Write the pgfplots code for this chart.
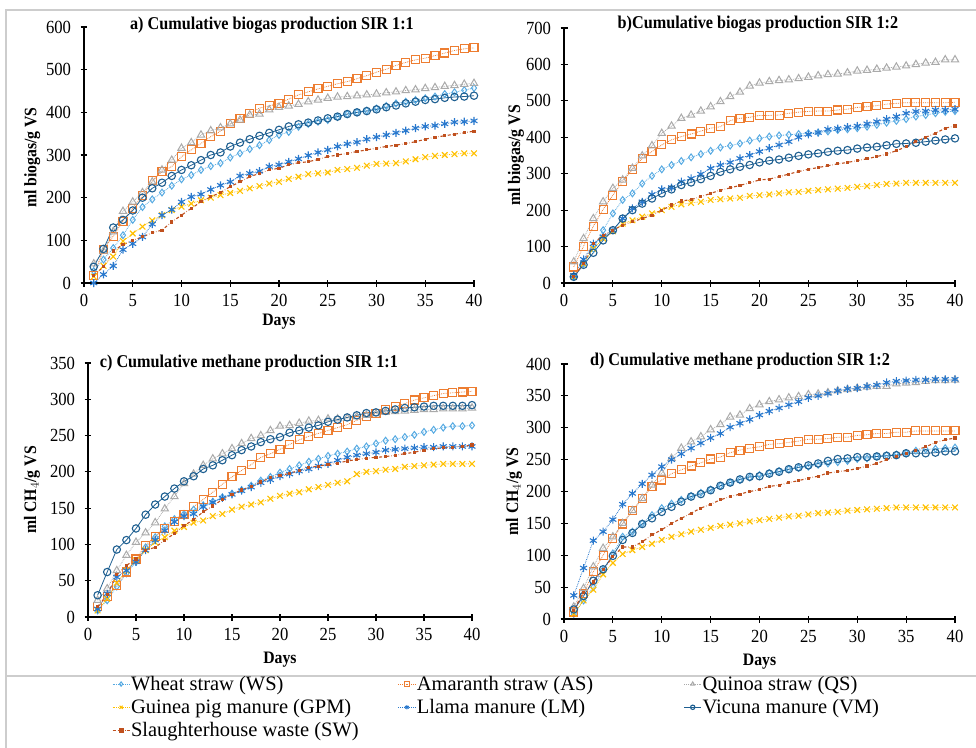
\documentclass[border=0pt]{standalone}
\usepackage{fontspec}
\setmainfont{Liberation Serif}
\newfontfamily\cond{Liberation Serif}[FakeStretch=0.9]
\usepackage{pgfplots}
\usepackage{pgfplotstable}
\pgfplotsset{compat=1.18}

\definecolor{cWS}{RGB}{86,170,226}
\definecolor{cAS}{RGB}{237,125,49}
\definecolor{cQS}{RGB}{170,170,170}
\definecolor{cGPM}{RGB}{255,192,0}
\definecolor{cLM}{RGB}{40,120,205}
\definecolor{cVM}{RGB}{30,95,145}
\definecolor{cSW}{RGB}{192,80,30}
\definecolor{framegray}{RGB}{205,205,205}

% a) biogas SIR 1:1
\pgfplotstableread{
day WS AS QS GPM LM VM SW
1 28 18 45 15 0 38 18
2 55 78 75 40 20 80 38
3 82 110 120 62 40 130 75
4 112 145 168 98 78 148 90
5 148 175 190 116 92 170 100
6 178 205 212 132 108 200 108
7 196 240 237 147 138 222 118
8 212 261 265 159 159 235 124
9 228 273 288 171 172 251 143
10 243 296 316 179 190 265 159
11 253 312 329 186 202 276 175
12 265 327 347 194 208 288 190
13 274 343 357 200 219 300 202
14 281 356 364 206 229 306 212
15 294 373 373 211 237 320 226
16 304 386 382 216 251 329 237
17 314 398 394 222 257 337 249
18 323 410 396 227 262 345 257
19 335 415 406 233 273 352 265
20 347 421 412 237 277 359 269
21 354 431 415 244 284 367 277
22 366 441 419 249 291 372 282
23 373 448 425 255 299 376 284
24 378 455 429 257 306 381 290
25 382 461 433 259 312 386 296
26 389 467 436 265 320 390 300
27 396 472 437 267 326 396 304
28 400 479 439 270 330 400 308
29 404 486 441 275 337 403 312
30 409 494 443 279 342 407 316
31 415 501 446 280 347 412 320
32 421 510 448 281 352 416 323
33 425 517 451 285 357 421 327
34 429 523 453 290 363 425 331
35 433 527 456 295 367 429 337
36 437 533 458 298 369 431 342
37 443 539 461 300 373 434 345
38 447 545 463 302 377 436 349
39 452 549 466 304 378 437 352
40 457 551 468 304 380 439 356
}\tabA

% b) biogas SIR 1:2
\pgfplotstableread{
day WS AS QS GPM LM VM SW
1 17 44 58 17 21 17 18
2 53 101 122 53 65 50 53
3 94 156 177 94 108 83 108
4 145 202 223 122 127 117 131
5 191 241 260 142 145 145 145
6 228 278 283 163 177 177 159
7 246 312 315 172 205 200 168
8 273 342 349 182 223 218 177
9 294 361 377 191 243 232 186
10 312 379 411 200 257 246 200
11 324 393 431 209 262 257 214
12 335 402 452 216 278 269 225
13 345 409 461 220 287 276 229
14 354 417 472 223 299 285 237
15 363 425 484 228 315 294 246
16 372 429 498 230 324 305 255
17 377 446 512 232 331 312 261
18 383 452 524 234 342 319 268
19 391 455 541 239 351 324 275
20 397 460 549 241 361 331 283
21 402 460 553 243 370 336 285
22 405 461 556 246 379 339 292
23 407 466 558 249 388 344 299
24 409 469 561 250 400 349 306
25 411 471 565 253 408 353 312
26 413 472 569 255 413 356 317
27 416 472 572 257 422 360 322
28 420 475 574 259 424 363 327
29 422 477 577 261 428 365 331
30 425 482 582 264 431 369 336
31 429 484 584 266 437 372 341
32 434 487 587 269 443 374 347
33 440 491 590 272 450 378 354
34 445 493 593 273 457 382 363
35 450 495 596 275 466 383 374
36 457 495 600 275 471 385 388
37 461 495 604 275 472 388 400
38 466 495 606 275 475 391 411
39 470 495 613 275 475 394 425
40 472 496 613 275 477 397 431
}\tabB

% c) methane SIR 1:1
\pgfplotstableread{
day WS AS QS GPM LM VM SW
1 9 14 23 9 11 30 14
2 23 28 39 25 32 62 31
3 42 44 64 47 55 93 58
4 60 62 85 64 64 106 71
5 76 80 103 78 76 122 80
6 96 99 116 92 92 141 92
7 110 111 130 103 106 155 96
8 125 122 149 110 119 166 106
9 135 131 166 119 131 177 115
10 142 141 184 124 139 187 126
11 148 152 197 130 142 194 134
12 154 162 209 133 152 204 145
13 159 172 218 139 158 209 153
14 165 183 225 142 164 216 162
15 170 193 232 148 169 223 169
16 175 202 239 152 174 230 175
17 181 210 246 155 179 235 180
18 188 220 250 158 185 241 186
19 193 225 257 163 189 245 192
20 199 231 263 167 194 248 195
21 204 238 264 170 197 254 198
22 209 244 267 172 201 257 202
23 214 249 270 176 204 261 206
24 218 253 271 179 208 264 208
25 222 257 273 182 211 269 210
26 225 261 273 185 216 272 212
27 228 265 274 187 220 275 215
28 232 271 276 197 223 278 217
29 235 276 278 200 225 281 219
30 239 281 280 201 227 282 220
31 243 286 282 203 230 284 221
32 245 290 283 204 231 286 223
33 248 294 284 207 232 288 225
34 251 299 285 208 233 289 227
35 255 302 286 209 234 290 230
36 258 305 286 210 234 291 232
37 261 308 287 211 235 291 233
38 263 309 287 211 235 291 234
39 263 310 287 211 235 291 235
40 264 311 288 211 235 292 237
}\tabC

% d) methane SIR 1:2
\pgfplotstableread{
day WS AS QS GPM LM VM SW
1 8 11 19 8 37 15 14
2 29 40 48 29 80 36 42
3 50 74 82 46 123 60 58
4 77 100 111 70 137 78 77
5 103 126 129 88 156 99 98
6 129 149 150 102 180 124 113
7 137 170 170 108 197 135 113
8 150 189 189 113 212 149 121
9 163 208 210 118 226 158 132
10 174 218 229 124 239 168 140
11 181 228 252 129 250 176 150
12 187 234 268 133 259 184 158
13 193 240 278 137 268 192 166
14 198 245 286 140 276 196 174
15 203 251 297 143 284 202 180
16 209 254 305 146 291 209 187
17 214 261 317 148 301 214 192
18 218 265 320 150 307 219 196
19 222 268 330 153 313 223 200
20 226 270 336 155 320 224 203
21 229 274 341 157 326 228 208
22 232 275 344 159 331 231 210
23 235 277 347 161 336 235 214
24 237 279 349 162 341 238 217
25 239 282 352 164 347 241 221
26 242 282 353 166 350 244 224
27 244 283 355 167 354 248 229
28 246 285 358 168 358 251 231
29 248 285 360 170 361 252 233
30 251 288 362 171 362 254 236
31 252 289 364 172 365 254 240
32 255 291 365 173 367 255 244
33 257 291 365 174 371 256 250
34 258 293 369 175 373 257 255
35 260 293 370 175 374 260 260
36 264 295 371 175 375 260 265
37 266 295 373 175 375 260 270
38 267 295 374 175 376 261 277
39 268 295 374 175 376 263 281
40 269 295 375 175 376 263 284
}\tabD

\pgfplotsset{
  sWS/.style={cWS, densely dotted, line width=0.8bp, mark=diamond, mark size=3.4bp, mark options={solid, line width=1bp}},
  sAS/.style={cAS, densely dotted, line width=0.8bp, mark=square, mark size=4bp, mark options={solid, line width=1.1bp}},
  sQS/.style={cQS, densely dotted, line width=0.8bp, mark=triangle, mark size=4.2bp, mark options={solid, line width=1bp}},
  sGPM/.style={cGPM, densely dotted, line width=0.8bp, mark=x, mark size=4bp, mark options={solid, line width=1.1bp}},
  sLM/.style={cLM, densely dotted, line width=0.8bp, mark=asterisk, mark size=4bp, mark options={solid, line width=1.1bp}},
  sVM/.style={cVM, solid, line width=0.8bp, mark=o, mark size=3.7bp, mark options={solid, line width=1.1bp}},
  sSW/.style={cSW, dash dot, line width=1.1bp, mark=square*, mark size=1bp, mark options={solid}},
  panel/.style={
    scale only axis,
    xmin=0, xmax=40, ymin=0,
    xtick={0,5,...,40},
    axis x line=bottom, axis y line=left,
    axis line style={-, line width=1.3bp, black},
    tick style={line width=1.2bp, black},
    tick align=center,
    major tick length=7bp,
    clip=false,
    /pgf/number format/assume math mode=true,
    ticklabel style={font=\cond\fontsize{18.5bp}{21bp}\selectfont},
    yticklabel style={xshift=-6bp},
    xticklabel style={yshift=-4bp},
    label style={font=\cond\bfseries\fontsize{17.5bp}{20bp}\selectfont},
    title style={font=\cond\bfseries\fontsize{18bp}{21bp}\selectfont, anchor=center},
  },
}

\newcommand{\allseries}[1]{%
  \addplot[sWS] table[x=day, y=WS] {#1};
  \addplot[sAS] table[x=day, y=AS] {#1};
  \addplot[sQS] table[x=day, y=QS] {#1};
  \addplot[sGPM] table[x=day, y=GPM] {#1};
  \addplot[sLM] table[x=day, y=LM] {#1};
  \addplot[sVM] table[x=day, y=VM] {#1};
  \addplot[sSW] table[x=day, y=SW] {#1};
}

\begin{document}
\begin{tikzpicture}
\path[use as bounding box] (0,0) rectangle (976bp,-748bp);
\draw[framegray, line width=1.3bp] (6bp,-748bp) -- (6bp,-10bp) -- (976bp,-10bp);
\draw[framegray, line width=1.3bp] (6bp,-676bp) -- (976bp,-676bp);

% a
\begin{axis}[panel, at={(84bp,-283bp)}, anchor=south west,
  width=390bp, height=256bp, ymax=600, ytick distance=100,
  xlabel={Days}, ylabel={ml biogas/g VS},
  xlabel style={at={(axis description cs:0.5,-0.152)}, anchor=center},
  ylabel style={at={(axis description cs:-0.133,0.49)}, anchor=center},
  title={a) Cumulative biogas production SIR 1:1},
  title style={at={(axis description cs:0.482,0.984)}}]
\allseries{\tabA}
\end{axis}

% b
\begin{axis}[panel, at={(564bp,-283bp)}, anchor=south west,
  width=391bp, height=255bp, ymax=700, ytick distance=100,
  ylabel={ml biogas/g VS},
  ylabel style={at={(axis description cs:-0.123,0.5)}, anchor=center},
  title={b)Cumulative biogas production SIR 1:2},
  title style={at={(axis description cs:0.496,0.99)}}]
\allseries{\tabB}
\end{axis}

% c
\begin{axis}[panel, at={(88bp,-617bp)}, anchor=south west,
  width=384bp, height=254bp, ymax=350, ytick distance=50,
  xlabel={Days}, ylabel={ml CH$_4$/g VS},
  xlabel style={at={(axis description cs:0.5,-0.169)}, anchor=center},
  ylabel style={at={(axis description cs:-0.146,0.5)}, anchor=center},
  title={c) Cumulative methane production SIR 1:1},
  title style={at={(axis description cs:0.419,0.976)}}]
\allseries{\tabC}
\end{axis}

% d
\begin{axis}[panel, at={(564bp,-619bp)}, anchor=south west,
  width=391bp, height=255bp, ymax=400, ytick distance=50,
  xlabel={Days}, ylabel={ml CH$_4$/g VS},
  xlabel style={at={(axis description cs:0.5,-0.169)}, anchor=center},
  ylabel style={at={(axis description cs:-0.128,0.5)}, anchor=center},
  title={d) Cumulative methane production SIR 1:2},
  title style={at={(axis description cs:0.45,0.988)}}]
\allseries{\tabD}
\end{axis}

% legend
\begin{axis}[hide axis, scale only axis, width=10bp, height=10bp,
  at={(112bp,-675bp)}, anchor=south west,
  xmin=0, xmax=1, ymin=0, ymax=1,
  legend columns=3,
  legend image post style={mark size=2.2bp, line width=0.8bp},
  legend style={at={(axis description cs:0,0)}, anchor=north west,
    draw=none, fill=none, inner sep=0pt, row sep=5.5bp,
    font=\fontsize{20.5bp}{24bp}\selectfont,
    nodes={inner sep=1bp},
    /tikz/every odd column/.style={column sep=0pt}},
  legend cell align=left]
\addlegendimage{sWS}\addlegendentry{\makebox[266bp][l]{Wheat straw (WS)}}
\addlegendimage{sAS}\addlegendentry{\makebox[266bp][l]{Amaranth straw (AS)}}
\addlegendimage{sQS}\addlegendentry{\makebox[266bp][l]{Quinoa straw (QS)}}
\addlegendimage{sGPM}\addlegendentry{\makebox[266bp][l]{Guinea pig manure (GPM)}}
\addlegendimage{sLM}\addlegendentry{\makebox[266bp][l]{Llama manure (LM)}}
\addlegendimage{sVM}\addlegendentry{\makebox[266bp][l]{Vicuna manure (VM)}}
\addlegendimage{sSW}\addlegendentry{\makebox[266bp][l]{Slaughterhouse waste (SW)}}
\end{axis}
\end{tikzpicture}
\end{document}
